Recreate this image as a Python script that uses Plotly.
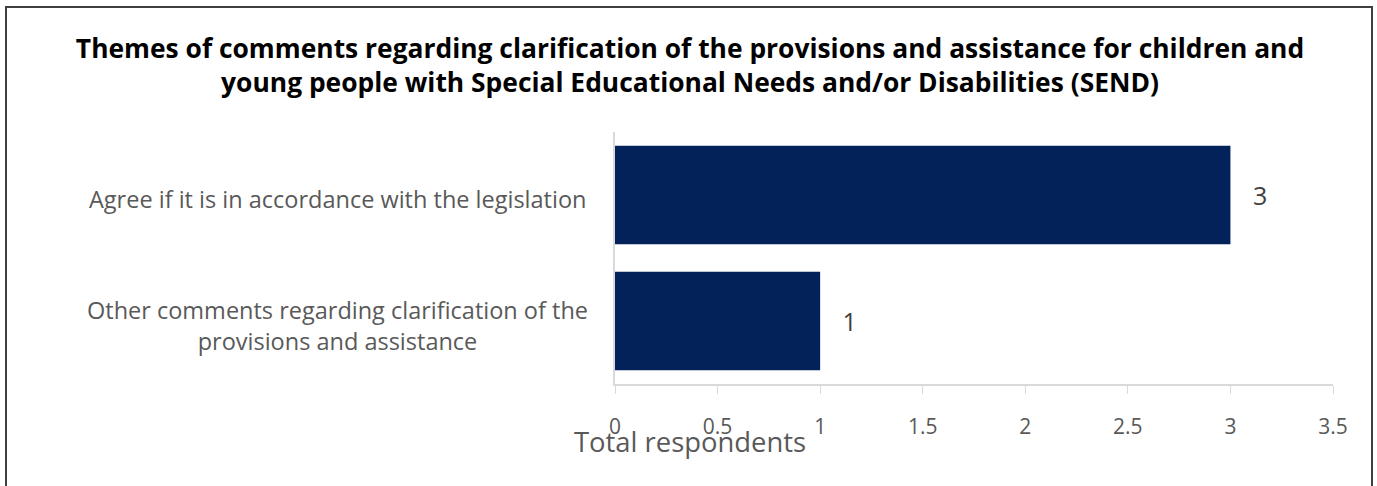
import plotly.graph_objects as go

categories = ["Other comments regarding clarification of the provisions and assistance",
              "Agree if it is in accordance with the legislation"]
category_labels = ["Other comments regarding clarification of the<br>provisions and assistance",
                   "Agree if it is in accordance with the legislation"]
values = [1, 3]
x_ticks = [0, 0.5, 1, 1.5, 2, 2.5, 3, 3.5]
x_tick_text = ["0", "0.5", "1", "1.5", "2", "2.5", "3", "3.5"]
title_text = ("<b>Themes of comments regarding clarification of the provisions and assistance for children and<br>"
              "young people with Special Educational Needs and/or Disabilities (SEND)</b>")
x_title = "Total respondents"

FONT = "Open Sans"
W, H = 1377, 486
ML, MR, MT, MB = 615, 44, 132, 102
PW, PH = W - ML - MR, H - MT - MB

def px_x(p):
    return (p - ML) / PW

def px_y(p):
    return (H - MB - p) / PH

fig = go.Figure()
fig.add_trace(go.Bar(
    y=categories, x=values, orientation="h",
    marker=dict(color="#03225A", line=dict(width=0)),
    text=values, texttemplate="   %{x}", textposition="outside",
    textfont=dict(family=FONT, size=25, color="#404040"),
    cliponaxis=False, hoverinfo="skip",
))

annotations = []
for cat, lab in zip(categories, category_labels):
    annotations.append(dict(
        x=px_x(337), xref="paper", y=cat, yref="y", text=lab, showarrow=False,
        xanchor="center", yanchor="middle", align="center", yshift=-4,
        font=dict(family=FONT, size=23.5, color="#595959"),
    ))
annotations.append(dict(
    x=px_x(690), xref="paper", y=px_y(441), yref="paper", text=x_title, showarrow=False,
    xanchor="center", yanchor="middle",
    font=dict(family=FONT, size=27.4, color="#595959"),
))

fig.update_layout(
    width=W, height=H,
    margin=dict(l=ML, r=MR, t=MT, b=MB),
    paper_bgcolor="white", plot_bgcolor="white",
    title=dict(text=title_text, x=690 / W, xref="container", xanchor="center",
               y=1 - 58 / H, yanchor="middle",
               font=dict(family=FONT, size=26.4, color="#000000")),
    bargap=0.22,
    showlegend=False,
    xaxis=dict(range=[0, 3.5], tickvals=x_ticks, ticktext=x_tick_text,
               showgrid=False, zeroline=False,
               showline=True, linecolor="#D9D9D9", linewidth=2,
               ticks="outside", ticklen=8, tickcolor="#D9D9D9", tickwidth=1,
               ticklabelstandoff=15,
               tickfont=dict(family=FONT, size=21, color="#595959")),
    yaxis=dict(showgrid=False, zeroline=False, showticklabels=False,
               showline=True, linecolor="#D9D9D9", linewidth=2,
               categoryorder="array", categoryarray=categories),
    annotations=annotations,
    shapes=[dict(type="rect", xref="paper", yref="paper",
                 x0=px_x(6), x1=px_x(1372), y0=px_y(520), y1=px_y(7),
                 line=dict(color="#404040", width=2), fillcolor="rgba(0,0,0,0)")],
)

fig.write_html("out.html", config={"displayModeBar": False},
               post_script="document.body.style.margin='0';document.body.style.overflow='hidden';")
